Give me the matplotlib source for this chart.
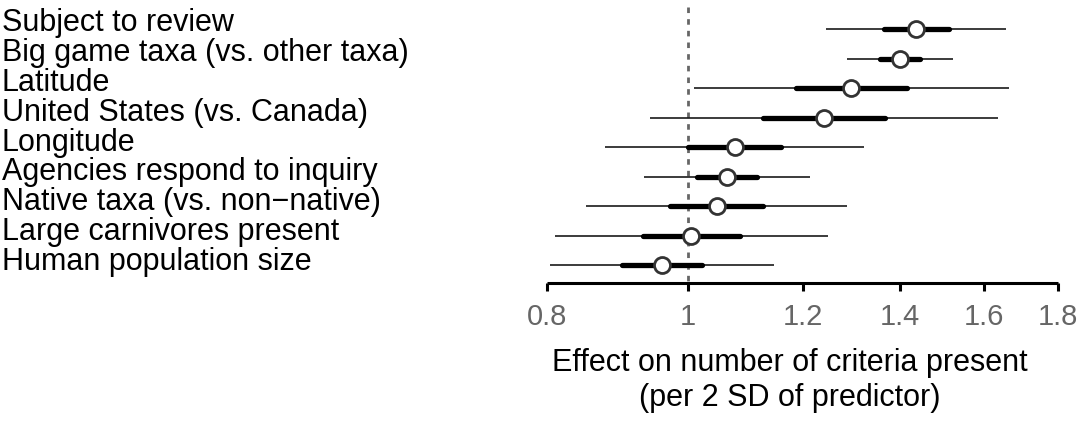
import matplotlib
matplotlib.use("Agg")
import matplotlib.pyplot as plt
from matplotlib.ticker import FixedLocator, FixedFormatter, NullLocator

plt.rcParams['font.family'] = ['Liberation Sans', 'DejaVu Sans']

labels = ["Subject to review",
          "Big game taxa (vs. other taxa)",
          "Latitude",
          "United States (vs. Canada)",
          "Longitude",
          "Agencies respond to inquiry",
          "Native taxa (vs. non\u2212native)",
          "Large carnivores present",
          "Human population size"]
est = [1.437, 1.401, 1.297, 1.241, 1.078, 1.064, 1.047, 1.005, 0.960]
lo95 = [1.245, 1.288, 1.010, 0.942, 0.877, 0.933, 0.851, 0.810, 0.804]
hi95 = [1.657, 1.524, 1.665, 1.636, 1.323, 1.214, 1.287, 1.250, 1.147]
lo50 = [1.365, 1.358, 1.188, 1.127, 1.000, 1.015, 0.973, 0.932, 0.901]
hi50 = [1.513, 1.447, 1.417, 1.368, 1.160, 1.116, 1.127, 1.087, 1.023]
tick_vals = [0.8, 1, 1.2, 1.4, 1.6, 1.8]
tick_labels = ["0.8", "1", "1.2", "1.4", "1.6", "1.8"]

W, H = 1084, 421
fig = plt.figure(figsize=(W / 100, H / 100), dpi=100)

# axes placed in pixel terms: x 547..1058, y 0..283 (from top)
ax = fig.add_axes([547 / W, 1 - 283 / H, (1058 - 547) / W, 283 / H])
ax.set_xscale('log')
ax.set_xlim(0.8, 1.8)
row0, step = 29.3, 29.5
ax.set_ylim(8 + (283 - row0 - 8 * step) / step, -row0 / step)

ax.plot([1, 1], [-(row0 - 7) / step, 8.6], color='#666666', lw=2,
        ls=(0, (2, 2.2)), zorder=1, clip_on=False)

for i in range(len(labels)):
    ax.plot([lo95[i], hi95[i]], [i, i], color='#1a1a1a', lw=1.2,
            solid_capstyle='butt', zorder=2, clip_on=False)
    ax.plot([lo50[i], hi50[i]], [i, i], color='black', lw=3.8,
            solid_capstyle='round', zorder=3, clip_on=False)
    ax.plot(est[i], i, 'o', ms=11.5, mfc='white', mec='#333333', mew=2,
            zorder=4, clip_on=False)
    fig.text(2 / W, 1 - (23 + i * 29.9) / H, labels[i], fontsize=22,
             ha='left', va='center', color='black')

for s in ['top', 'right', 'left']:
    ax.spines[s].set_visible(False)
ax.spines['bottom'].set_linewidth(2.2)
ax.spines['bottom'].set_capstyle('butt')
ax.set_yticks([])
ax.xaxis.set_major_locator(FixedLocator(tick_vals))
ax.xaxis.set_major_formatter(FixedFormatter(tick_labels))
ax.xaxis.set_minor_locator(NullLocator())
ax.tick_params(axis='x', length=6, width=2.2, pad=8.5, labelsize=21,
               labelcolor='#666666', color='black')

fig.text(790 / W, 1 - 363 / H, "Effect on number of criteria present",
         fontsize=22, ha='center', va='center')
fig.text(790 / W, 1 - 398 / H, "(per 2 SD of predictor)",
         fontsize=22, ha='center', va='center')

fig.savefig("out.png", dpi=100)
